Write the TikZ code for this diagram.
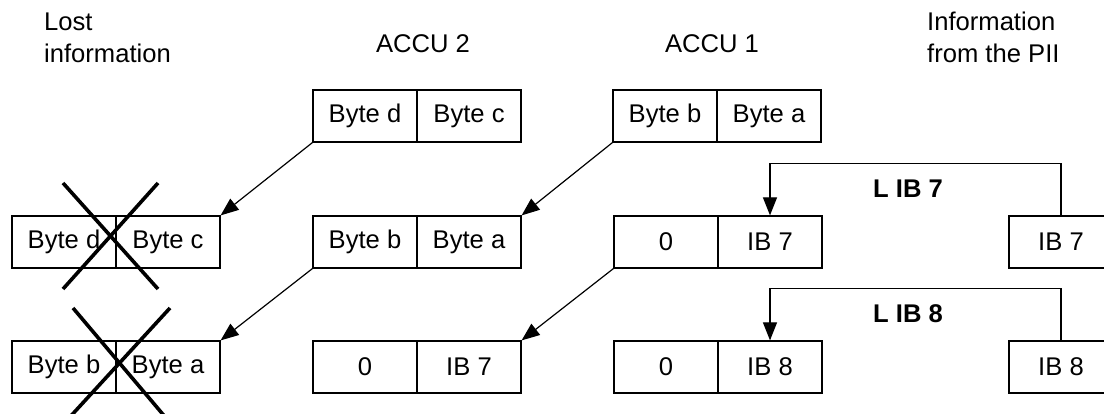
\documentclass[tikz,border=0pt]{standalone}
\usepackage{fontspec}
\setmainfont{Liberation Sans}
\usetikzlibrary{arrows.meta}
\begin{document}
\begin{tikzpicture}[x=1pt,y=-1pt,
  every node/.style={font=\fontsize{25.6}{32.7}\selectfont},
  cell/.style={draw, line width=1.2pt, minimum width=104pt, minimum height=52pt, inner sep=0pt},
  lbl/.style={inner sep=0pt, align=left, anchor=base west},
  arr/.style={line width=1.2pt, -{Triangle[length=18pt,width=14pt]}},
  crossline/.style={line width=3.6pt}]
\useasboundingbox (0,0) rectangle (1104,414);
\clip (0,0) rectangle (1104,414);
\fill[white] (0,0) rectangle (1104,414);
% headings
\node[lbl] (hlost) at (44,63) {Lost\\information};
\node[inner sep=0pt, anchor=base] (hacc2) at (423,53) {ACCU 2};
\node[inner sep=0pt, anchor=base] (hacc1) at (712,53) {ACCU 1};
\node[lbl] (hpii) at (927,63) {Information\\from the PII};
% row 1
\node[cell] (a2d) at (365,116) {Byte d};
\node[cell] (a2c) at (469,116) {Byte c};
\node[cell] (a1b) at (665,116) {Byte b};
\node[cell] (a1a) at (769,116) {Byte a};
% row 2
\node[cell] (l2d) at (64,242) {Byte d};
\node[cell] (l2c) at (168,242) {Byte c};
\node[cell] (m2b) at (365,242) {Byte b};
\node[cell] (m2a) at (469,242) {Byte a};
\node[cell] (r2z) at (666,242) {0};
\node[cell] (r2ib) at (770,242) {IB 7};
\node[cell] (p7) at (1061,242) {IB 7};
% row 3
\node[cell] (l3b) at (64,367) {Byte b};
\node[cell] (l3a) at (168,367) {Byte a};
\node[cell] (m3z) at (365,367) {0};
\node[cell] (m3ib) at (469,367) {IB 7};
\node[cell] (r3z) at (666,367) {0};
\node[cell] (r3ib) at (770,367) {IB 8};
\node[cell] (p8) at (1061,367) {IB 8};
% diagonal arrows
\draw[arr] (a2d.south west) -- (l2c.north east);
\draw[arr] (a1b.south west) -- (m2a.north east);
\draw[arr] (m2b.south west) -- (l3a.north east);
\draw[arr] (r2z.south west) -- (m3ib.north east);
% load arrows
\draw[arr] (p7.north) -- ++(0,-52) -| (r2ib.north);
\draw[arr] (p8.north) -- ++(0,-52) -| (r3ib.north);
\node[inner sep=0pt, font=\fontsize{25.6}{30}\selectfont\bfseries] (lib7) at (908,189) {L IB 7};
\node[inner sep=0pt, font=\fontsize{25.6}{30}\selectfont\bfseries] (lib8) at (908,314) {L IB 8};
% crosses
\draw[crossline] (63,183) -- (158,289);
\draw[crossline] (158,183) -- (63,289);
\draw[crossline] (73,308) -- (166,418);
\draw[crossline] (170,308) -- (69,418);
\end{tikzpicture}
\end{document}
